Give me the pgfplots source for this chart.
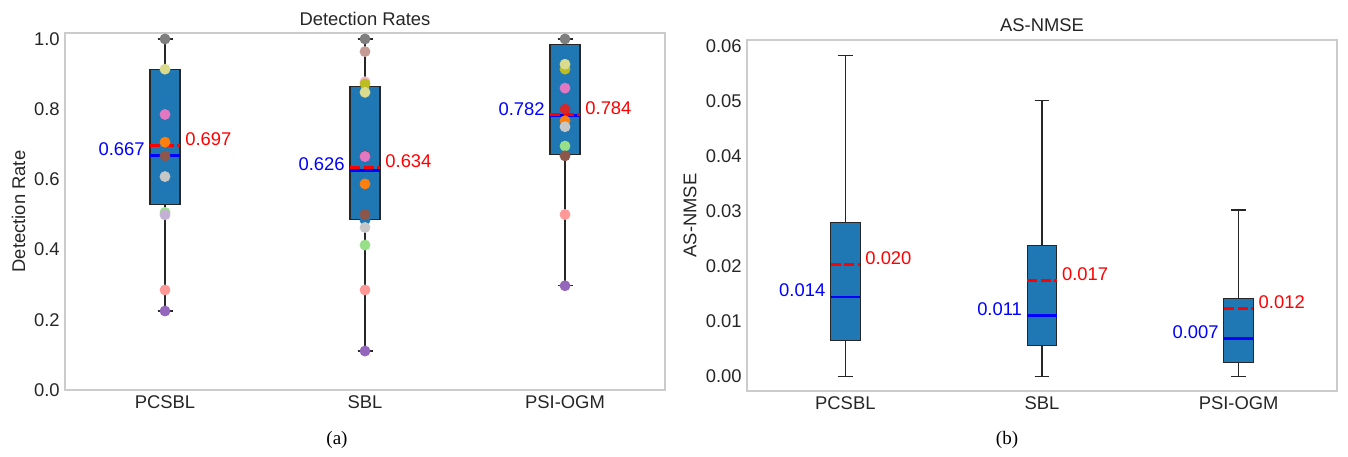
\documentclass[border=0pt]{standalone}
\usepackage{fontspec}
\setmainfont{Liberation Sans}
\newfontfamily\capfont{Liberation Serif}
\usepackage{pgfplots}
\pgfplotsset{compat=1.18}
\usepgfplotslibrary{statistics}

% tab20 colours
\definecolor{c0}{HTML}{1F77B4}
\definecolor{c2}{HTML}{FF7F0E}
\definecolor{c5}{HTML}{98DF8A}
\definecolor{c6}{HTML}{D62728}
\definecolor{c7}{HTML}{FF9896}
\definecolor{c8}{HTML}{9467BD}
\definecolor{c9}{HTML}{C5B0D5}
\definecolor{c10}{HTML}{8C564B}
\definecolor{c11}{HTML}{C49C94}
\definecolor{c12}{HTML}{E377C2}
\definecolor{c13}{HTML}{F7B6D2}
\definecolor{c14}{HTML}{7F7F7F}
\definecolor{c15}{HTML}{C7C7C7}
\definecolor{c16}{HTML}{BCBD22}
\definecolor{c17}{HTML}{DBDB8D}
\definecolor{framegray}{HTML}{CCCCCC}
\definecolor{textgray}{HTML}{262626}

\newcommand{\fsz}{\fontsize{9.2}{11}\selectfont}

\pgfplotsset{
  boxstyle/.style={
    scale only axis, clip=false,
    axis line style={draw=framegray, line width=0.6pt},
    major tick length=0pt,
    xmin=0.5, xmax=3.5,
    xtick={1,2,3}, xticklabels={PCSBL,SBL,PSI-OGM},
    tick label style={font=\fsz, text=textgray},
    /pgf/number format/assume math mode=true,
    scaled y ticks=false,
    xticklabel style={anchor=north, inner sep=0pt, yshift=-2.75pt},
    yticklabel style={anchor=east, inner sep=0pt, xshift=-2.5pt},
    label style={font=\fsz, text=textgray},
    title style={at={(0.5,1)}, anchor=base, inner sep=0pt, font=\fsz, text=textgray},
    boxplot/draw direction=y,
    boxplot/box extend=0.15,
    boxplot/whisker extend=0.075,
    boxplot/every median/.style={draw=blue, line width=1.4pt},
  },
  bx/.style={boxplot prepared={draw direction=y, #1}, draw=black!85, line width=0.55pt, fill=c0, solid},
  mn/.style={red, line width=1.4pt, dash pattern=on 5pt off 1.8pt},
  dot/.style={only marks, mark=*, mark size=2.5pt, draw=#1, fill=#1},
}
\tikzset{
  med/.style={anchor=base east, inner sep=0pt, text=blue, font=\fsz},
  avg/.style={anchor=base west, inner sep=0pt, text=red, font=\fsz},
}

\begin{document}
\begin{tikzpicture}
\path[use as bounding box] (0,0) rectangle (674pt,228pt);

% (a) detection rates
\begin{axis}[boxstyle,
    at={(32.5pt,33pt)}, anchor=south west,
    width=300pt, height=178.5pt,
    ymin=0, ymax=1.017,
    ytick={0,0.2,0.4,0.6,0.8,1.0},
    yticklabel style={/pgf/number format/fixed, /pgf/number format/fixed zerofill, /pgf/number format/precision=1},
    title={Detection Rates}, title style={yshift=-2.5pt},
    ylabel={Detection Rate},
    ylabel style={at={(axis description cs:-0.0775,0.5)}, anchor=center},
  ]
  \addplot[bx={draw position=1, lower whisker=0.225, lower quartile=0.529, median=0.667, upper quartile=0.914, upper whisker=1.0}] coordinates {};
  \addplot[bx={draw position=2, lower whisker=0.111, lower quartile=0.486, median=0.626, upper quartile=0.864, upper whisker=1.0}] coordinates {};
  \addplot[bx={draw position=3, lower whisker=0.297, lower quartile=0.672, median=0.782, upper quartile=0.983, upper whisker=1.0}] coordinates {};

  % means
  \addplot[mn] coordinates {(0.925,0.697) (1.075,0.697)};
  \addplot[mn] coordinates {(1.925,0.634) (2.075,0.634)};
  \addplot[mn] coordinates {(2.925,0.784) (3.075,0.784)};

  % individual results
  \addplot[dot=c0]  coordinates {(2,0.484)};
  \addplot[dot=c2]  coordinates {(1,0.706) (2,0.587) (3,0.767)};
  \addplot[dot=c5]  coordinates {(1,0.506) (2,0.413) (3,0.695)};
  \addplot[dot=c6]  coordinates {(2,0.667) (3,0.800)};
  \addplot[dot=c7]  coordinates {(1,0.285) (2,0.285) (3,0.500)};
  \addplot[dot=c8]  coordinates {(1,0.225) (2,0.111) (3,0.297)};
  \addplot[dot=c9]  coordinates {(1,0.499)};
  \addplot[dot=c10] coordinates {(1,0.667) (2,0.500) (3,0.667)};
  \addplot[dot=c11] coordinates {(2,0.964)};
  \addplot[dot=c12] coordinates {(1,0.785) (2,0.665) (3,0.860)};
  \addplot[dot=c13] coordinates {(2,0.878)};
  \addplot[dot=c14] coordinates {(1,1.0) (2,1.0) (3,1.0)};
  \addplot[dot=c15] coordinates {(1,0.608) (2,0.463) (3,0.750)};
  \addplot[dot=c16] coordinates {(2,0.872) (3,0.914)};
  \addplot[dot=c17] coordinates {(1,0.914) (2,0.848) (3,0.928)};

  \node[med] at (axis cs:0.9,0.667) {0.667};
  \node[avg] at (axis cs:1.1,0.697) {0.697};
  \node[med] at (axis cs:1.9,0.626) {0.626};
  \node[avg] at (axis cs:2.1,0.634) {0.634};
  \node[med] at (axis cs:2.9,0.782) {0.782};
  \node[avg] at (axis cs:3.1,0.784) {0.784};
\end{axis}

% (b) AS-NMSE
\begin{axis}[boxstyle,
    at={(373.5pt,32.5pt)}, anchor=south west,
    width=295pt, height=175.5pt,
    ymin=-0.0027, ymax=0.0611,
    ytick={0,0.01,0.02,0.03,0.04,0.05,0.06},
    yticklabel style={/pgf/number format/fixed, /pgf/number format/fixed zerofill, /pgf/number format/precision=2},
    title={AS-NMSE}, title style={yshift=-2pt},
    ylabel={AS-NMSE},
    ylabel style={at={(axis description cs:-0.0966,0.5)}, anchor=center},
  ]
  \addplot[bx={draw position=1, lower whisker=0.0, lower quartile=0.0065, median=0.0144, upper quartile=0.0280, upper whisker=0.0583}] coordinates {};
  \addplot[bx={draw position=2, lower whisker=0.0, lower quartile=0.0056, median=0.0110, upper quartile=0.0238, upper whisker=0.0501}] coordinates {};
  \addplot[bx={draw position=3, lower whisker=0.0, lower quartile=0.0024, median=0.0068, upper quartile=0.0141, upper whisker=0.0302}] coordinates {};

  \addplot[mn] coordinates {(0.925,0.0203) (1.075,0.0203)};
  \addplot[mn] coordinates {(1.925,0.0174) (2.075,0.0174)};
  \addplot[mn] coordinates {(2.925,0.0123) (3.075,0.0123)};

  \node[med] at (axis cs:0.9,0.0144) {0.014};
  \node[avg] at (axis cs:1.1,0.0203) {0.020};
  \node[med] at (axis cs:1.9,0.0110) {0.011};
  \node[avg] at (axis cs:2.1,0.0174) {0.017};
  \node[med] at (axis cs:2.9,0.0068) {0.007};
  \node[avg] at (axis cs:3.1,0.0123) {0.012};
\end{axis}

\node[font=\capfont\fontsize{9.5}{11}\selectfont, text=black] at (168.5pt,8pt) {(a)};
\node[font=\capfont\fontsize{9.5}{11}\selectfont, text=black] at (503.5pt,8pt) {(b)};
\end{tikzpicture}
\end{document}
